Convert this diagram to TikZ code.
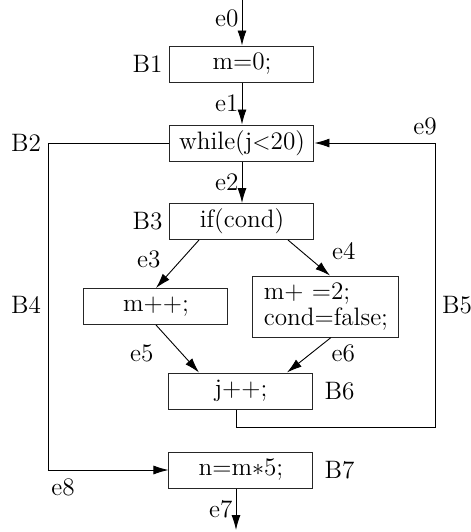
\documentclass[tikz,border=0pt]{standalone}
\usepackage{tikz}
\usetikzlibrary{arrows.meta,positioning,calc}

\begin{document}
\begin{tikzpicture}[
    x=0.5pt, y=-0.5pt,
    >={Latex[length=7.5pt,width=4.5pt]},
    every node/.style={font=\fontsize{12.6}{13}\selectfont},
    blk/.style={
        rectangle,
        draw=black!85,
        line width=0.5pt,
        minimum width=72pt,
        minimum height=18pt,
        inner sep=2pt
    },
    flow/.style={->, line width=0.45pt},
    line/.style={line width=0.45pt},
    lbl/.style={inner sep=1.5pt}
]
\useasboundingbox (0,0) rectangle (471,532);

% ==================== Blocks ====================
\node[blk] (b1) at (242,64)  {m=0;};
\node[blk] (b2) at (242,143) {while(j$<$20)};
\node[blk] (b3) at (242,221.5) {if(cond)};
\node[blk] (b4) at (156,306.5) {m++;};
\node[blk, minimum width=73pt, minimum height=30.5pt, align=left]
          (b5) at (326,306.5) {m+ =2;\\cond=false;};
\node[blk] (b6) at (241,391) {j++;};
\node[blk] (b7) at (241,470) {n=m$*$5;};

% block labels
\node[left]  (lb1) at (b1.west) {B1};
\node[left]  (lb3) at (b3.west) {B3};
\node[right=2pt] (lb6) at (b6.east) {B6};
\node[right=2pt] (lb7) at (b7.east) {B7};

% ==================== Straight edges ====================
\coordinate (in) at (242,0);
\coordinate (out) at (236,530);
\draw[flow] (in) -- node[left,lbl,pos=0.4] (le0) {e0} (b1.north);
\draw[flow] (b1.south) -- node[left,lbl] (le1) {e1} (b2.north);
\draw[flow] (b2.south) -- node[left,lbl] (le2) {e2} (b3.north);
\draw[flow] ([xshift=-2.5pt]b7.south) -- node[left,lbl] (le7) {e7} (out);

% branches of the if
\draw[flow] ([xshift=-21.5pt]b3.south) -- node[left=9pt,lbl,pos=0.4] (le3) {e3} (b4.north);
\draw[flow] ([xshift=23pt]b3.south) -- node[right=14pt,lbl,pos=0.3] (le4) {e4} ([xshift=2pt]b5.north);
\draw[flow] (b4.south) -- node[left=12.5pt,lbl,pos=0.6] (le5) {e5} ([xshift=-21pt]b6.north);
\draw[flow] ([xshift=2.5pt]b5.south) -- node[right=8.5pt,lbl,pos=0.45] (le6) {e6} ([xshift=23pt]b6.north);

% ==================== Loop back (e9) and exit (e8) ====================
\coordinate (c9) at (435,427);
\draw[flow] ([xshift=-2.5pt]b6.south) |- (c9) |- (b2.east);
\node[above left,lbl,xshift=2.5pt,yshift=2.5pt] (le9) at (435,143) {e9};
\node[right] (lb5) at (435,305) {B5};

\coordinate (c2) at (48,143);
\coordinate (c8) at (48,470);
\draw[line] (b2.west) -- (c2) -- (c8);
\draw[flow] (c8) -- (b7.west);
\node[left] (lb2) at (c2) {B2};
\node[left] (lb4) at (48,305) {B4};
\node[below right,lbl,yshift=-2.5pt] (le8) at (c8) {e8};

\end{tikzpicture}
\end{document}
